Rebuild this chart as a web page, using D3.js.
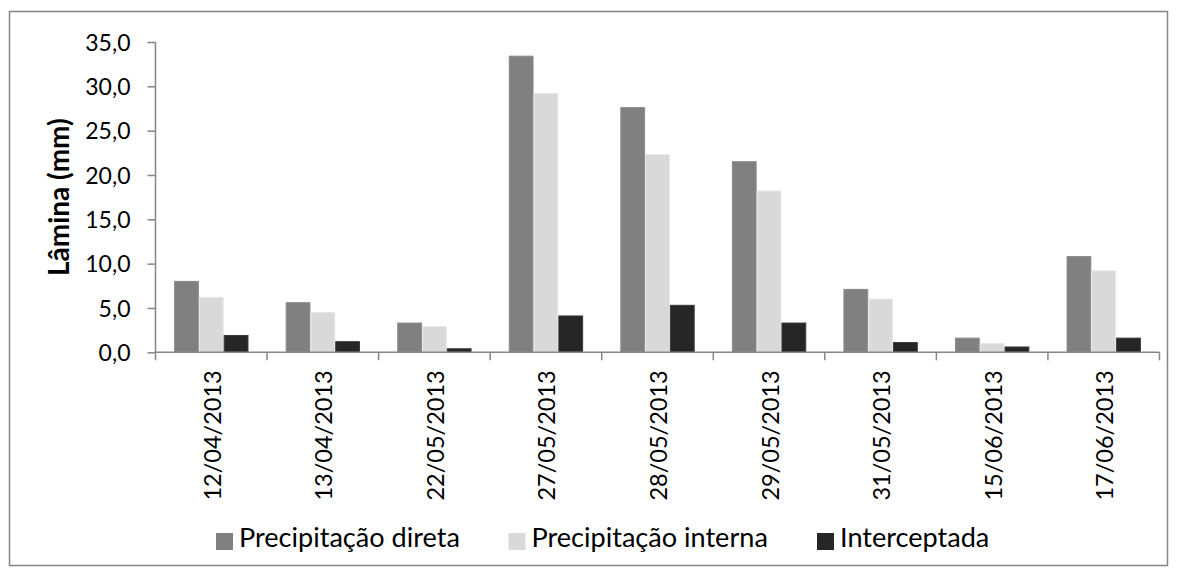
<!DOCTYPE html>
<html><head><meta charset="utf-8">
<script src="https://cdn.jsdelivr.net/npm/d3@7/dist/d3.min.js"></script>
<style>
html,body{margin:0;padding:0;background:#fff;}
text{font-family:Lato,"Open Sans",sans-serif;fill:#000;}
</style></head>
<body><svg id="c" width="1178" height="576"></svg>
<script>
const categories = ["12/04/2013","13/04/2013","22/05/2013","27/05/2013","28/05/2013","29/05/2013","31/05/2013","15/06/2013","17/06/2013"];
const seriesNames = ["Precipitação direta","Precipitação interna","Interceptada"];
const direta = [8.0,5.6,3.3,33.4,27.6,21.5,7.1,1.6,10.8];
const interna = [6.2,4.5,2.9,29.2,22.3,18.2,6.0,1.0,9.2];
const interceptada = [1.9,1.2,0.4,4.1,5.3,3.3,1.1,0.6,1.6];
const yTicks = [0,5,10,15,20,25,30,35];
const seriesValues = [direta, interna, interceptada];
const colors = ["#808080","#d9d9d9","#262626"];
const strokes = ["#8c8c8c","#e8e8e8","#3a3a3a"];

const svg = d3.select("#c");
// outer frame
svg.append("rect").attr("x",9.5).attr("y",11.5).attr("width",1158).attr("height",554)
  .attr("fill","none").attr("stroke","#868686").attr("stroke-width",1.5);

const pL=155.5, pR=1159.5, pT=42, pB=352.3;
const x0 = d3.scaleBand().domain(categories).range([pL,pR]).padding(0);
const x1 = d3.scaleBand().domain(d3.range(3)).range([0,x0.bandwidth()]).paddingInner(0).paddingOuter(0.75);
const y = d3.scaleLinear().domain([0,35]).range([pB,pT]);

const g = svg.append("g");
categories.forEach((c,i)=>{
  seriesValues.forEach((vals,s)=>{
    g.append("rect")
      .attr("x", x0(c)+x1(s)+0.5)
      .attr("y", y(vals[i]))
      .attr("width", x1.bandwidth()-1)
      .attr("height", y(0)-y(vals[i]))
      .attr("fill", colors[s]).attr("stroke", strokes[s]).attr("stroke-width",1);
  });
});

const axisColor="#868686";
// y axis
const yAxis = d3.axisLeft(y).tickValues(yTicks).tickSize(8).tickPadding(17)
  .tickFormat(d=>d3.format(".1f")(d).replace(".",","));
const ya = svg.append("g").attr("transform",`translate(${pL},0)`).call(yAxis);
ya.selectAll("path,line").attr("stroke",axisColor).attr("stroke-width",1.5);
ya.select(".domain").attr("d",`M0,${pT}V${pB}`);
ya.selectAll("text").attr("font-size",23).attr("font-family","Lato").attr("fill","#000").attr("dy","0.35em");

// x axis
const xa = svg.append("g").attr("transform",`translate(0,${pB})`);
xa.append("line").attr("x1",pL).attr("x2",pR).attr("y1",0).attr("y2",0)
  .attr("stroke",axisColor).attr("stroke-width",1.5);
const tickPos = categories.map(c=>x0(c)).concat([pR]);
xa.selectAll("line.t").data(tickPos).enter().append("line").attr("class","t")
  .attr("x1",d=>d).attr("x2",d=>d).attr("y1",0).attr("y2",8)
  .attr("stroke",axisColor).attr("stroke-width",1.5);
xa.selectAll("text.lab").data(categories).enter().append("text").attr("class","lab")
  .attr("transform",d=>`translate(${x0(d)+x0.bandwidth()/2+9.5},18) rotate(-90)`)
  .attr("text-anchor","end").attr("font-size",23.5).text(d=>d);

// y title
svg.append("text").attr("transform",`translate(69,${(pT+pB)/2}) rotate(-90)`)
  .attr("text-anchor","middle").attr("font-size",28).attr("font-weight","bold").text("Lâmina (mm)");

// legend
const legX = [216,508.5,817];
const leg = svg.append("g");
const legTexts = [];
seriesNames.forEach((n,s)=>{
  leg.append("rect").attr("x",legX[s]).attr("y",533).attr("width",17).attr("height",17).attr("fill",colors[s]);
  legTexts.push(leg.append("text").attr("x",legX[s]+23).attr("y",547).attr("font-size",23).text(n));
});
// fit legend font so first entry spans the measured width
const w0 = legTexts[0].node().getComputedTextLength();
const fs = 23*221/w0;
legTexts.forEach(t=>t.attr("font-size",fs));
</script></body></html>
